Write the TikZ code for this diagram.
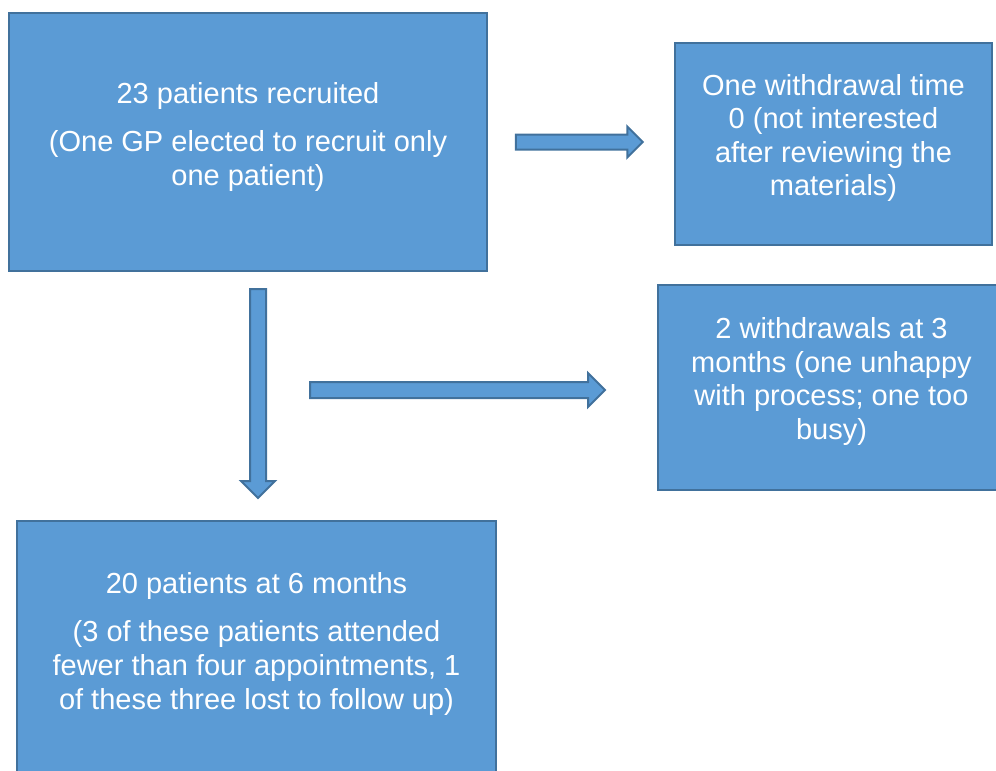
\documentclass[tikz,border=0pt]{standalone}
\usepackage{fontspec}
\setmainfont{Liberation Sans}
\usetikzlibrary{shapes.arrows}
\definecolor{boxfill}{HTML}{5B9BD5}
\definecolor{boxline}{HTML}{41719C}
\begin{document}
\begin{tikzpicture}[x=1pt, y=-1pt]
    \tikzstyle{every node}=[inner sep=0pt, outer sep=0pt]
    \tikzstyle{box}=[rectangle, fill=boxfill, draw=boxline, line width=2pt]
    \tikzstyle{boxtext}=[text=white, align=center, font=\fontsize{29pt}{33.6pt}\selectfont]
    \tikzstyle{bigarrow}=[single arrow, fill=boxfill, draw=boxline, line width=2pt, inner ysep=7pt, single arrow head extend=9pt, single arrow head indent=0pt]
    \path[use as bounding box, clip] (0,0) rectangle (996,771);
    % boxes
    \node [box, minimum width=478pt, minimum height=258pt] (recruited) at (248,142) {};
    \node [box, minimum width=317pt, minimum height=202pt] (withdrawn0) at (833.5,144) {};
    \node [box, minimum width=347pt, minimum height=205pt] (withdrawn3) at (831.5,387.5) {};
    \node [box, minimum width=479pt, minimum height=258pt] (sixmonths) at (256.5,650) {};
    % texts
    \node [boxtext] (recruitedtext) at ([yshift=5pt]recruited.center) {23 patients recruited\\[14.5pt](One GP elected to recruit only\\one patient)};
    \node [boxtext] (withdrawn0text) at ([yshift=6pt]withdrawn0.center) {One withdrawal time\\0 (not interested\\after reviewing the\\materials)};
    \node [boxtext] (withdrawn3text) at ([yshift=6pt]withdrawn3.center) {2 withdrawals at 3\\months (one unhappy\\with process; one too\\busy)};
    \node [boxtext] (sixmonthstext) at ([yshift=6pt]sixmonths.center) {20 patients at 6 months\\[14.5pt](3 of these patients attended\\fewer than four appointments, 1\\of these three lost to follow up)};
    % block arrows
    \node [bigarrow, inner ysep=6.5pt, single arrow head extend=8pt, minimum height=127pt] (toright0) at (575.5,142) {};
    \node [bigarrow, minimum height=209pt, rotate=-90] (down) at (258,389.5) {};
    \node [bigarrow, minimum height=295pt] (toright3) at (453.5,390) {};
\end{tikzpicture}
\end{document}
